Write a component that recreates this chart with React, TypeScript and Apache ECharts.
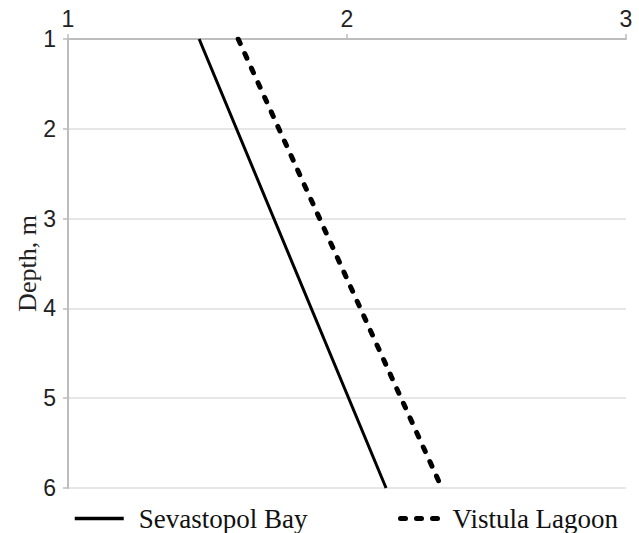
import React, { useEffect, useRef } from "react";
import * as echarts from "echarts";

const depths = [1, 6];
const sevastopolX = [1.47, 2.14];
const vistulaX = [1.61, 2.34];
const xTicks = [1, 2, 3];
const yTicks = [1, 2, 3, 4, 5, 6];
const seriesNames = ["Sevastopol Bay", "Vistula Lagoon"];

export default function App() {
  const ref = useRef<HTMLDivElement>(null);
  useEffect(() => {
    document.body.style.margin = "0";
    const chart = echarts.init(ref.current!, null, { renderer: "svg" });
    const axisGray = "#bdbdbd";
    const sans = "'Liberation Sans', Arial, sans-serif";
    const serif = "'Liberation Serif', 'Times New Roman', serif";
    chart.setOption({
      animation: false,
      backgroundColor: "#ffffff",
      grid: { left: 68, right: 13, top: 39, bottom: 45 },
      xAxis: {
        type: "value",
        position: "top",
        min: xTicks[0],
        max: xTicks[xTicks.length - 1],
        interval: 1,
        axisLine: { show: true, lineStyle: { color: axisGray, width: 2 } },
        axisTick: { show: true, length: 5, lineStyle: { color: axisGray, width: 1.5 } },
        splitLine: { show: false },
        axisLabel: { fontFamily: sans, fontSize: 23, color: "#222", margin: 9 },
      },
      yAxis: {
        type: "value",
        inverse: true,
        min: yTicks[0],
        max: yTicks[yTicks.length - 1],
        interval: 1,
        name: "Depth, m",
        nameLocation: "middle",
        nameGap: 28,
        nameMoveOverlap: false,
        nameTextStyle: { fontFamily: serif, fontSize: 26, color: "#222" },
        axisLine: { show: true, lineStyle: { color: axisGray, width: 2 } },
        axisTick: { show: true, length: 5, lineStyle: { color: axisGray, width: 1.5 } },
        splitLine: { show: true, lineStyle: { color: "#dedede", width: 1.5 } },
        axisLabel: { fontFamily: sans, fontSize: 23, color: "#222", margin: 12 },
      },
      legend: [
        {
          data: [seriesNames[0]],
          left: 73,
          top: 505,
          padding: 0,
          itemWidth: 49,
          itemHeight: 14,
          itemStyle: { opacity: 0, borderWidth: 0 },
          lineStyle: { width: 3.5 },
          textStyle: { fontFamily: serif, fontSize: 27, color: "#111", padding: [0, 0, 0, 10] },
        },
        {
          data: [seriesNames[1]],
          left: 398,
          top: 505,
          padding: 0,
          itemWidth: 45,
          itemHeight: 14,
          itemStyle: { opacity: 0, borderWidth: 0 },
          lineStyle: { width: 5 },
          textStyle: { fontFamily: serif, fontSize: 27, color: "#111", padding: [0, 0, 0, 2] },
        },
      ],
      series: [
        {
          name: seriesNames[0],
          type: "line",
          symbol: "none",
          data: depths.map((d, i) => [sevastopolX[i], d]),
          lineStyle: { color: "#000", width: 3 },
          itemStyle: { color: "#000" },
        },
        {
          name: seriesNames[1],
          type: "line",
          symbol: "none",
          data: depths.map((d, i) => [vistulaX[i], d]),
          lineStyle: { color: "#000", width: 5, type: [5, 11], cap: "round" },
          itemStyle: { color: "#000" },
        },
      ],
    });
    return () => chart.dispose();
  }, []);
  return <div ref={ref} style={{ width: 639, height: 533 }} />;
}
